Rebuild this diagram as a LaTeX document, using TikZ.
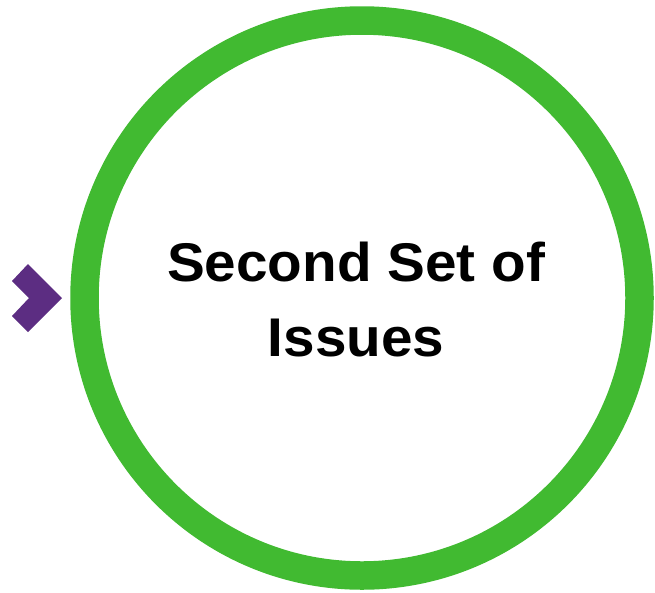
\documentclass[tikz,border=0pt]{standalone}
\usepackage{fontspec}
\setmainfont{Liberation Sans}[FakeStretch=1.04]
\usepackage{tikz}
\usetikzlibrary{positioning}
\definecolor{ringgreen}{HTML}{41BA31}
\definecolor{markpurple}{HTML}{5C2D82}

\begin{document}
\begin{tikzpicture}[x=1pt,y=-1pt,
 ring/.style={circle,draw=ringgreen,line width=28.5pt,minimum size=555pt,inner sep=0pt},
 lab/.style={font=\fontsize{54.5}{75}\selectfont\bfseries,align=center,text=black}]
\useasboundingbox (0,0) rectangle (655,592);
% Green ring with the title inside.
\node[ring] (ringc) at (362,298) {};
\node[lab] (title) at (356,300) {Second Set of\\Issues};
% Purple chevron pointing at the ring.
\fill[markpurple] (28,264) -- (62,298) -- (28,332) -- (12,316) -- (29,298) -- (12,281) -- cycle;
\end{tikzpicture}
\end{document}
